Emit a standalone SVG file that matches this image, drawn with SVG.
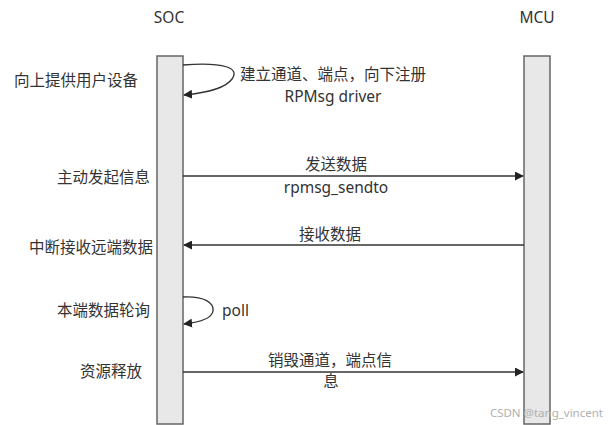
<svg xmlns="http://www.w3.org/2000/svg" width="608" height="425" viewBox="0 0 608 425">
<style>
text{font-family:"Noto Sans","Noto Sans CJK SC",sans-serif;font-size:15.5px;fill:#333;}
.m{text-anchor:middle;}
.bar{fill:#e8e8e8;stroke:#666;stroke-width:1.5;}
.ln{fill:none;stroke:#333;stroke-width:1.3;}
.wm{font-size:11.5px;fill:#b0b0b0;}
</style>
<defs>
<marker id="ah" viewBox="0 0 10 10" refX="9" refY="5" markerWidth="9" markerHeight="9" markerUnits="userSpaceOnUse" orient="auto">
<path d="M0,0 L10,5 L0,10 z" fill="#222"/>
</marker>
</defs>
<rect width="608" height="425" fill="#fff"/>
<g id="soc">
<rect class="bar" x="157" y="56" width="26" height="368"/>
<text class="m" x="169" y="23">SOC</text>
</g>
<g id="mcu">
<rect class="bar" x="524" y="56" width="26" height="368"/>
<text class="m" x="537" y="23">MCU</text>
</g>
<g id="labels">
<text x="14" y="86">向上提供用户设备</text>
<text x="57" y="182.5">主动发起信息</text>
<text x="29" y="253">中断接收远端数据</text>
<text x="57" y="315.5">本端数据轮询</text>
<text x="80" y="377">资源释放</text>
</g>
<g id="connectors">
<path class="ln" d="M183,65 C225,62 240,68 232,79 C225,89 205,93 184,95" marker-end="url(#ah)"/>
<path class="ln" d="M183,176 L523,176" marker-end="url(#ah)"/>
<path class="ln" d="M524,245 L184,245" marker-end="url(#ah)"/>
<path class="ln" d="M183,297 C205,296 214,303 213,311 C212,318 202,322 184,324" marker-end="url(#ah)"/>
<path class="ln" d="M183,372 L523,372" marker-end="url(#ah)"/>
</g>
<g id="connector-labels">
<text x="240" y="80">建立通道、端点，向下注册</text>
<text class="m" x="333" y="102">RPMsg driver</text>
<text class="m" x="336" y="170">发送数据</text>
<text class="m" x="336" y="193">rpmsg_sendto</text>
<text class="m" x="330" y="240">接收数据</text>
<text x="222" y="315.5">poll</text>
<text class="m" x="330" y="365.5">销毁通道，端点信</text>
<text class="m" x="331" y="387">息</text>
</g>
<text class="wm" x="603" y="417" text-anchor="end">CSDN @tang_vincent</text>
</svg>
